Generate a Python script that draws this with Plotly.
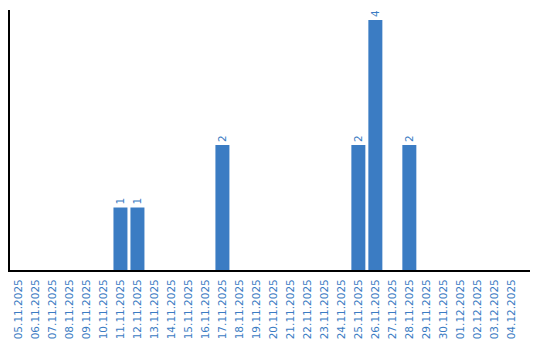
import plotly.graph_objects as go

dates = ["05.11.2025", "06.11.2025", "07.11.2025", "08.11.2025", "09.11.2025",
         "10.11.2025", "11.11.2025", "12.11.2025", "13.11.2025", "14.11.2025",
         "15.11.2025", "16.11.2025", "17.11.2025", "18.11.2025", "19.11.2025",
         "20.11.2025", "21.11.2025", "22.11.2025", "23.11.2025", "24.11.2025",
         "25.11.2025", "26.11.2025", "27.11.2025", "28.11.2025", "29.11.2025",
         "30.11.2025", "01.12.2025", "02.12.2025", "03.12.2025", "04.12.2025"]
counts = [0, 0, 0, 0, 0, 0, 1, 1, 0, 0,
          0, 0, 2, 0, 0, 0, 0, 0, 0, 0,
          2, 4, 0, 2, 0, 0, 0, 0, 0, 0]

blue = "#3b7cc3"
labels = [str(v) if v else "" for v in counts]

fig = go.Figure(go.Bar(
    x=list(range(len(dates))), y=counts,
    marker=dict(color=blue, line=dict(width=0)),
    text=labels, textposition="outside", textangle=-90,
    textfont=dict(family="DejaVu Sans", size=10.5, color=blue),
    cliponaxis=False,
))

fig.update_layout(
    width=540, height=340,
    margin=dict(l=10, r=10, t=10, b=70),
    paper_bgcolor="white", plot_bgcolor="white",
    bargap=3 / 17,
    showlegend=False,
    font=dict(family="DejaVu Sans", size=10.5, color=blue),
)
fig.update_xaxes(
    tickmode="array", tickvals=list(range(len(dates))), ticktext=dates,
    tickangle=-90, range=[-0.5, 30.1], automargin=False,
    showline=True, linecolor="black", linewidth=2,
    showgrid=False, zeroline=False, ticks="", ticklabelstandoff=3,
    tickfont=dict(family="DejaVu Sans", size=10.5, color=blue),
)
fig.update_yaxes(
    range=[0, 4.16], showline=True, linecolor="black", linewidth=2, automargin=False,
    showgrid=False, zeroline=False, showticklabels=False, ticks="",
)

fig.write_html("out.html")
